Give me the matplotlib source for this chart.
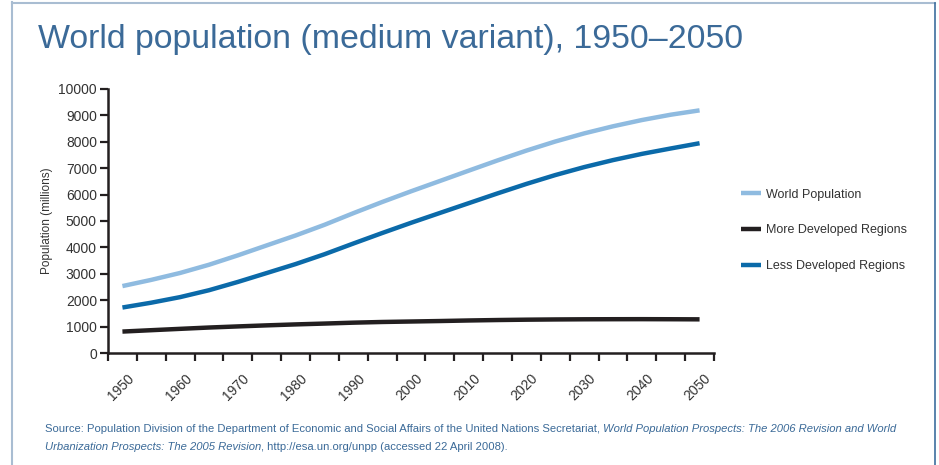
import matplotlib
matplotlib.use("Agg")
import matplotlib.pyplot as plt
from matplotlib.lines import Line2D
import numpy as np

plt.rcParams['font.family'] = ['Liberation Sans', 'DejaVu Sans']

years = [1950, 1955, 1960, 1965, 1970, 1975, 1980, 1985, 1990, 1995, 2000,
         2005, 2010, 2015, 2020, 2025, 2030, 2035, 2040, 2045, 2050]
world = [2535, 2770, 3032, 3343, 3699, 4076, 4451, 4855, 5295, 5719, 6124,
         6515, 6907, 7295, 7667, 8011, 8318, 8587, 8824, 9026, 9191]
more_dev = [812, 864, 915, 965, 1007, 1047, 1083, 1115, 1149, 1175, 1193,
            1211, 1232, 1249, 1262, 1271, 1277, 1280, 1282, 1279, 1275]
less_dev = [1723, 1906, 2117, 2378, 2692, 3029, 3368, 3740, 4146, 4544, 4931,
            5304, 5675, 6046, 6405, 6740, 7041, 7307, 7542, 7747, 7946]
series_names = ["World Population", "More Developed Regions", "Less Developed Regions"]

W, H = 939, 465
fig = plt.figure(figsize=[W / 100, H / 100], dpi=100)
ax = fig.add_axes([108 / W, 1 - 353 / H, (714 - 108) / W, (353 - 89) / H])

x = np.arange(len(years))
ax.plot(x, world, color="#8fbbe0", lw=3.2, solid_capstyle="butt", label=series_names[0])
ax.plot(x, more_dev, color="#231f20", lw=3.2, solid_capstyle="butt", label=series_names[1])
ax.plot(x, less_dev, color="#0b6aa9", lw=3.2, solid_capstyle="butt", label=series_names[2])

ax.set_xlim(-0.5, len(years) - 0.5)
ax.set_ylim(0, 10000)
ax.set_yticks(range(0, 10001, 1000))
ax.set_xticks(np.arange(-0.5, len(years), 1.0))
ax.set_xticklabels([])
for i, yr in enumerate(years):
    if yr % 10 == 0:
        ax.text(i + 0.15, -700, str(yr), rotation=45, ha="right", va="top",
                rotation_mode="anchor", fontsize=10, color="#333333")

for s in ["top", "right"]:
    ax.spines[s].set_visible(False)
for s in ["left", "bottom"]:
    ax.spines[s].set_linewidth(1.8)
    ax.spines[s].set_color("#231f20")
ax.tick_params(axis="both", direction="out", length=6, width=1.6, color="#231f20",
               labelsize=10, labelcolor="#333333")
ax.tick_params(axis="y", pad=2)
ax.set_ylabel("Population (millions)", fontsize=8.5, color="#333333", labelpad=4)

leg = ax.legend(loc="upper left", bbox_to_anchor=(1.026, 0.665), frameon=False,
                fontsize=9, handlelength=1.6, handletextpad=0.4, labelspacing=1.9,
                labelcolor="#333333")

fig.text(38 / W, 1 - 48 / H, "World population (medium variant), 1950\u20132050",
         fontsize=24.4, color="#3b6a98", ha="left", va="baseline")

src1 = "Source: Population Division of the Department of Economic and Social Affairs of the United Nations Secretariat, "
src1i = "World Population Prospects: The 2006 Revision and World"
src2i = "Urbanization Prospects: The 2005 Revision"
src2 = ", http://esa.un.org/unpp (accessed 22 April 2008)."
fam = ['Liberation Sans Narrow', 'Liberation Sans']
fs = 8.1
t1 = fig.text(45 / W, 1 - 432 / H, src1, fontsize=fs, color="#3b6a98", family=fam)
fig.canvas.draw()
r = fig.canvas.get_renderer()
bb = t1.get_window_extent(r)
fig.text(bb.x1 / W, 1 - 432 / H, src1i, fontsize=fs, color="#3b6a98", family=fam, style="italic")
t2 = fig.text(45 / W, 1 - 450 / H, src2i, fontsize=fs, color="#3b6a98", family=fam, style="italic")
bb2 = t2.get_window_extent(r)
fig.text(bb2.x1 / W, 1 - 450 / H, src2, fontsize=fs, color="#3b6a98", family=fam)

# frame around the figure
fig.add_artist(Line2D([12 / W, 12 / W], [0, 1 - 2 / H], color="#a9bdd2", lw=1.5, transform=fig.transFigure))
fig.add_artist(Line2D([12 / W, 935 / W], [1 - 3 / H, 1 - 3 / H], color="#a9bdd2", lw=1.5, transform=fig.transFigure))
fig.add_artist(Line2D([935 / W, 935 / W], [0, 1 - 3 / H], color="#3d6e9e", lw=1.2, transform=fig.transFigure))

plt.savefig("out.png", dpi=100)
